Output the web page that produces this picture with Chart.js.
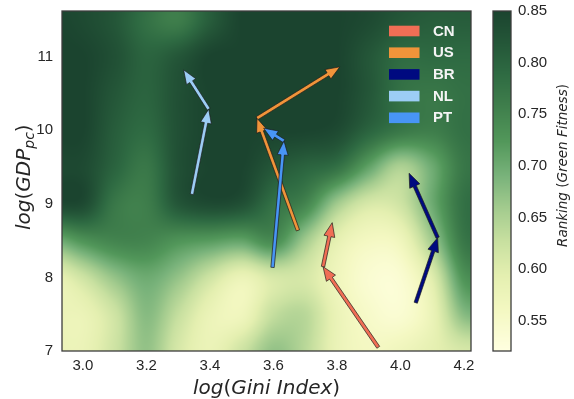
<!DOCTYPE html>
<html>
<head>
<meta charset="utf-8">
<script src="https://cdn.jsdelivr.net/npm/chart.js@4.4.1/dist/chart.umd.min.js"></script>
<style>
    html, body { margin: 0; padding: 0; background: #fff; }
</style>
</head>
<body>
<canvas id="fitnessChart" width="574" height="399"></canvas>
<script>
// Các quốc gia và màu mũi tên
const countries = ['CN', 'US', 'BR', 'NL', 'PT'];
const countryColors = ['#f06e55', '#f0943a', '#000a80', '#9ccdf5', '#4895f5'];

// Đường đi của từng quốc gia: log(Gini), log(GDPpc)
const cnGini = [3.930, 3.756, 3.785];
const cnGdp = [7.05, 8.146, 8.744];
const usGini = [3.677, 3.548, 3.809];
const usGdp = [8.639, 10.163, 10.861];
const brGini = [4.048, 4.117, 4.027];
const brGdp = [7.656, 8.540, 9.415];
const nlGini = [3.343, 3.396, 3.317];
const nlGdp = [9.129, 10.286, 10.820];
const ptGini = [3.597, 3.633, 3.569];
const ptGdp = [8.136, 9.854, 10.027];

// Lưới nền Ranking (Green Fitness)
const gridGini = [2.9, 3.0, 3.1, 3.2, 3.3, 3.4, 3.5, 3.6, 3.7, 3.8, 3.9, 4.0, 4.1, 4.2];
const gridGdp = [7.0, 7.5, 8.0, 8.5, 9.0, 9.5, 10.0, 10.5, 11.0, 11.5, 12.0];
const fitness = [
    [0.58, 0.58, 0.62, 0.67, 0.61, 0.58, 0.62, 0.67, 0.64, 0.58, 0.56, 0.57, 0.59, 0.61], // 7.0
    [0.58, 0.58, 0.62, 0.68, 0.63, 0.58, 0.57, 0.63, 0.64, 0.58, 0.55, 0.54, 0.58, 0.68], // 7.5
    [0.58, 0.62, 0.67, 0.70, 0.67, 0.62, 0.58, 0.61, 0.61, 0.57, 0.54, 0.54, 0.60, 0.73], // 8.0
    [0.69, 0.73, 0.75, 0.75, 0.73, 0.72, 0.71, 0.74, 0.66, 0.59, 0.56, 0.57, 0.66, 0.77], // 8.5
    [0.84, 0.84, 0.77, 0.76, 0.82, 0.84, 0.83, 0.78, 0.75, 0.66, 0.61, 0.62, 0.70, 0.78], // 9.0
    [0.84, 0.84, 0.80, 0.77, 0.83, 0.85, 0.85, 0.82, 0.80, 0.78, 0.71, 0.65, 0.70, 0.77], // 9.5
    [0.85, 0.85, 0.81, 0.79, 0.83, 0.85, 0.85, 0.85, 0.85, 0.84, 0.80, 0.77, 0.76, 0.78], // 10.0
    [0.85, 0.85, 0.82, 0.80, 0.83, 0.85, 0.85, 0.85, 0.85, 0.85, 0.82, 0.78, 0.77, 0.78], // 10.5
    [0.85, 0.85, 0.83, 0.80, 0.82, 0.85, 0.85, 0.85, 0.85, 0.85, 0.82, 0.79, 0.79, 0.79], // 11.0
    [0.85, 0.84, 0.82, 0.78, 0.76, 0.81, 0.85, 0.85, 0.85, 0.85, 0.84, 0.82, 0.81, 0.81], // 11.5
    [0.84, 0.84, 0.83, 0.80, 0.78, 0.82, 0.85, 0.85, 0.85, 0.85, 0.84, 0.83, 0.82, 0.82]  // 12.0
];

// Nhãn trục
const xTicks = [3.0, 3.2, 3.4, 3.6, 3.8, 4.0, 4.2];
const yTicks = [7, 8, 9, 10, 11];
const cbTicks = [0.55, 0.60, 0.65, 0.70, 0.75, 0.80, 0.85];

// Bảng màu (giá trị -> rgb)
const cmap = [
    [0.521, [255, 255, 224]],
    [0.56, [244, 248, 194]],
    [0.594, [228, 239, 176]],
    [0.627, [200, 224, 160]],
    [0.659, [163, 203, 142]],
    [0.691, [120, 178, 122]],
    [0.724, [82, 151, 90]],
    [0.76, [62, 125, 75]],
    [0.79, [46, 106, 66]],
    [0.82, [36, 86, 56]],
    [0.85, [27, 68, 47]]
];

function colorFor(v) {
    if (v <= cmap[0][0]) return cmap[0][1];
    for (let i = 1; i < cmap.length; i++) {
        if (v <= cmap[i][0]) {
            const t = (v - cmap[i - 1][0]) / (cmap[i][0] - cmap[i - 1][0]);
            const a = cmap[i - 1][1], b = cmap[i][1];
            return [a[0] + (b[0] - a[0]) * t, a[1] + (b[1] - a[1]) * t, a[2] + (b[2] - a[2]) * t];
        }
    }
    return cmap[cmap.length - 1][1];
}

function cr(p0, p1, p2, p3, t) {
    return 0.5 * (2 * p1 + (-p0 + p2) * t + (2 * p0 - 5 * p1 + 4 * p2 - p3) * t * t + (-p0 + 3 * p1 - 3 * p2 + p3) * t * t * t);
}

function cell(r, c) {
    r = Math.max(0, Math.min(fitness.length - 1, r));
    c = Math.max(0, Math.min(fitness[0].length - 1, c));
    return fitness[r][c];
}

function sampleGrid(fx, fy) {
    const ix = Math.floor(fx), iy = Math.floor(fy);
    const tx = fx - ix, ty = fy - iy;
    const rows = [];
    for (let k = -1; k <= 2; k++) {
        rows.push(cr(cell(iy + k, ix - 1), cell(iy + k, ix), cell(iy + k, ix + 1), cell(iy + k, ix + 2), tx));
    }
    return cr(rows[0], rows[1], rows[2], rows[3], ty);
}

// Vẽ nền heatmap trong vùng biểu đồ
const heatPlugin = {
    id: 'heat',
    beforeDatasetsDraw(chart) {
        const { ctx, chartArea: a, scales } = chart;
        const w = Math.round(a.right - a.left), h = Math.round(a.bottom - a.top);
        const off = document.createElement('canvas');
        off.width = w; off.height = h;
        const octx = off.getContext('2d');
        const img = octx.createImageData(w, h);
        const stepX = gridGini[1] - gridGini[0], stepY = gridGdp[1] - gridGdp[0];
        for (let j = 0; j < h; j++) {
            const gy = scales.y.getValueForPixel(a.top + j + 0.5);
            const fy = (gy - gridGdp[0]) / stepY;
            for (let i = 0; i < w; i++) {
                const gx = scales.x.getValueForPixel(a.left + i + 0.5);
                const fx = (gx - gridGini[0]) / stepX;
                const c = colorFor(sampleGrid(fx, fy));
                const k = (j * w + i) * 4;
                img.data[k] = c[0]; img.data[k + 1] = c[1]; img.data[k + 2] = c[2]; img.data[k + 3] = 255;
            }
        }
        octx.putImageData(img, 0, 0);
        ctx.drawImage(off, a.left, a.top);
    }
};

function drawArrow(ctx, p, q, color) {
    const dx = q.x - p.x, dy = q.y - p.y;
    const len = Math.hypot(dx, dy);
    const ux = dx / len, uy = dy / len, nx = -uy, ny = ux;
    const w = 1.7, hl = Math.min(14, len * 0.6), hw = 5.5;
    const bx = q.x - ux * hl, by = q.y - uy * hl;
    ctx.beginPath();
    ctx.moveTo(p.x + nx * w, p.y + ny * w);
    ctx.lineTo(bx + nx * w, by + ny * w);
    ctx.lineTo(bx + nx * hw, by + ny * hw);
    ctx.lineTo(q.x, q.y);
    ctx.lineTo(bx - nx * hw, by - ny * hw);
    ctx.lineTo(bx - nx * w, by - ny * w);
    ctx.lineTo(p.x - nx * w, p.y - ny * w);
    ctx.closePath();
    ctx.fillStyle = color;
    ctx.fill();
    ctx.lineWidth = 0.8;
    ctx.strokeStyle = 'rgba(25,25,25,0.85)';
    ctx.lineJoin = 'miter';
    ctx.stroke();
}

function drawRich(ctx, parts, x, y, align) {
    let total = 0;
    parts.forEach(p => { ctx.font = p.font; total += ctx.measureText(p.t).width; });
    let cx = align === 'center' ? x - total / 2 : x;
    ctx.textAlign = 'left';
    ctx.textBaseline = 'alphabetic';
    parts.forEach(p => {
        ctx.font = p.font;
        ctx.fillText(p.t, cx, y + (p.dy || 0));
        cx += ctx.measureText(p.t).width;
    });
}

// Mũi tên, chú thích, thang màu, khung và tiêu đề trục
const overlayPlugin = {
    id: 'overlay',
    afterDatasetsDraw(chart) {
        const { ctx, chartArea: a } = chart;
        ctx.save();
        chart.data.datasets.forEach((ds, i) => {
            const pts = chart.getDatasetMeta(i).data;
            for (let j = 0; j < pts.length - 1; j++) {
                drawArrow(ctx, pts[j], pts[j + 1], ds.borderColor);
            }
        });
        // chú thích
        chart.data.datasets.forEach((ds, i) => {
            const cy = a.top + 20 + i * 21.7;
            ctx.fillStyle = ds.borderColor;
            ctx.fillRect(389, cy - 5.3, 30.5, 10.6);
            ctx.fillStyle = '#f4f4f4';
            ctx.font = 'bold 15px "Liberation Sans"';
            ctx.textAlign = 'left';
            ctx.textBaseline = 'middle';
            ctx.fillText(ds.label, 433, cy + 0.5);
        });
        ctx.restore();
    },
    afterDraw(chart) {
        const { ctx, chartArea: a, scales } = chart;
        const cb = scales.cb;
        ctx.save();
        // thang màu
        const cbx = a.right + 22, cbw = 18;
        for (let py = Math.floor(cb.top); py < cb.bottom; py++) {
            const c = colorFor(cb.getValueForPixel(py + 0.5));
            ctx.fillStyle = `rgb(${c[0]},${c[1]},${c[2]})`;
            ctx.fillRect(cbx, py, cbw, 1);
        }
        ctx.strokeStyle = '#3d3d3d';
        ctx.lineWidth = 1.3;
        ctx.strokeRect(cbx, cb.top, cbw, cb.bottom - cb.top);
        ctx.strokeRect(a.left, a.top, a.right - a.left, a.bottom - a.top);

        ctx.fillStyle = '#262626';
        const it = 'italic 20px "DejaVu Sans"', up = '20px "DejaVu Sans"';
        drawRich(ctx, [
            { t: 'log', font: it }, { t: '(', font: up }, { t: 'Gini Index', font: it }, { t: ')', font: up }
        ], (a.left + a.right) / 2, 394, 'center');

        ctx.save();
        ctx.translate(30, 230);
        ctx.rotate(-Math.PI / 2);
        drawRich(ctx, [
            { t: 'log', font: it }, { t: '(', font: up }, { t: 'GDP', font: it },
            { t: 'pc', font: 'italic 14px "DejaVu Sans"', dy: 4 }, { t: ')', font: up }
        ], 0, 0, 'left');
        ctx.restore();

        ctx.save();
        ctx.translate(567, 247);
        ctx.rotate(-Math.PI / 2);
        const it2 = 'italic 13.5px "DejaVu Sans"', up2 = '13.5px "DejaVu Sans"';
        drawRich(ctx, [
            { t: 'Ranking', font: it2 }, { t: ' (', font: up2 }, { t: 'Green Fitness', font: it2 }, { t: ')', font: up2 }
        ], 0, 0, 'left');
        ctx.restore();
        ctx.restore();
    }
};

function makeSeries(gini, gdp) {
    return gini.map((g, i) => ({ x: g, y: gdp[i] }));
}

const series = [
    makeSeries(cnGini, cnGdp),
    makeSeries(usGini, usGdp),
    makeSeries(brGini, brGdp),
    makeSeries(nlGini, nlGdp),
    makeSeries(ptGini, ptGdp)
];

const tickFont = { family: '"Liberation Sans", Arial, sans-serif', size: 15 };

function fitVertical(width) {
    return s => { s.width = width; s.paddingTop = 0; s.paddingBottom = 0; };
}

const ctx = document.getElementById('fitnessChart').getContext('2d');
const chart = new Chart(ctx, {
    type: 'line',
    data: {
        datasets: countries.map((c, i) => ({
            label: c,
            data: series[i],
            borderColor: countryColors[i],
            backgroundColor: countryColors[i],
            showLine: false,
            pointRadius: 0,
            pointHoverRadius: 0
        }))
    },
    options: {
        responsive: false,
        animation: false,
        layout: { padding: { top: 11, left: 0, right: 0, bottom: 0 } },
        plugins: { legend: { display: false }, tooltip: { enabled: false } },
        scales: {
            x: {
                type: 'linear',
                min: 2.934,
                max: 4.222,
                afterBuildTicks: s => { s.ticks = xTicks.map(v => ({ value: v })); },
                afterFit: s => { s.height = 48; s.paddingLeft = 0; s.paddingRight = 0; },
                grid: { display: false, drawTicks: false },
                border: { display: false },
                ticks: { font: tickFont, color: '#262626', padding: 6, callback: v => Number(v).toFixed(1) }
            },
            y: {
                type: 'linear',
                position: 'left',
                min: 7,
                max: 11.62,
                afterBuildTicks: s => { s.ticks = yTicks.map(v => ({ value: v })); },
                afterFit: fitVertical(62),
                grid: { display: false, drawTicks: false },
                border: { display: false },
                ticks: { font: tickFont, color: '#262626', padding: 9, callback: v => String(v) }
            },
            cb: {
                type: 'linear',
                position: 'right',
                min: 0.521,
                max: 0.85,
                afterBuildTicks: s => { s.ticks = cbTicks.map(v => ({ value: v })); },
                afterFit: fitVertical(103),
                grid: { display: false, drawTicks: false },
                border: { display: false },
                ticks: { font: tickFont, color: '#262626', padding: 47, callback: v => Number(v).toFixed(2) }
            }
        }
    },
    plugins: [heatPlugin, overlayPlugin]
});
</script>
</body>
</html>
